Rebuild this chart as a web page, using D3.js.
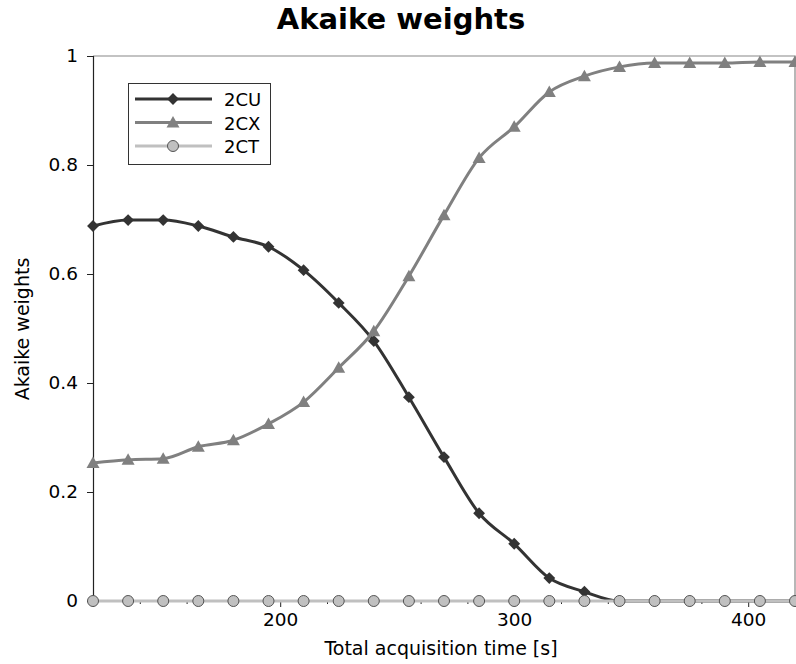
<!DOCTYPE html>
<html><head><meta charset="utf-8">
<script src="https://cdn.jsdelivr.net/npm/d3@7/dist/d3.min.js"></script>
<style>body{margin:0;background:#fff;} svg{display:block;font-family:"DejaVu Sans",sans-serif;}</style>
</head><body><svg id="c" width="796" height="664"></svg>
<script>
const times = [120,135,150,165,180,195,210,225,240,255,270,285,300,315,330,345,360,375,390,405,420];
const w2CU = [0.688,0.699,0.699,0.688,0.668,0.650,0.607,0.547,0.477,0.374,0.264,0.161,0.105,0.042,0.017,0,0,0,0,0,0];
const w2CX = [0.253,0.259,0.261,0.283,0.295,0.325,0.365,0.428,0.495,0.596,0.708,0.813,0.870,0.934,0.963,0.980,0.987,0.987,0.987,0.989,0.989];
const w2CT = [0,0,0,0,0,0,0,0,0,0,0,0,0,0,0,0,0,0,0,0,0];
const xMajorTicks = [200,300,400];
const xMinorTicks = [140,160,180,220,240,260,280,320,340,360,380];
const yTicks = [0,0.2,0.4,0.6,0.8,1];
const seriesNames = ["2CU","2CX","2CT"];

const svg = d3.select("#c");
const L=93,R=795,T=56,B=601;
const x = d3.scaleLinear().domain([120,420]).range([L,R]);
const y = d3.scaleLinear().domain([0,1]).range([B,T]);

svg.append("text").attr("x",401).attr("y",29).attr("text-anchor","middle")
  .attr("font-size",29).attr("font-weight","bold").text("Akaike weights");

// frame top/right
svg.append("path").attr("d",`M${L},${T}H${R}V${B}`).attr("fill","none").attr("stroke","#888").attr("stroke-width",1.2);

// y axis
const ya = svg.append("g").attr("transform",`translate(${L},0)`)
  .call(d3.axisLeft(y).tickValues(yTicks).tickSize(6).tickPadding(9).tickFormat(d=>d===0||d===1?String(d):d3.format(".1f")(d)));
ya.selectAll("text").attr("font-size",18.5).attr("fill","#000").attr("font-family","DejaVu Sans");
ya.select(".domain").attr("stroke","#222").attr("stroke-width",1.2);
ya.selectAll(".tick line").attr("stroke","#222");

// x axis
const xa = svg.append("g").attr("transform",`translate(0,${B})`)
  .call(d3.axisBottom(x).tickValues(xMajorTicks).tickSize(6).tickPadding(6).tickFormat(d3.format("d")));
xa.selectAll("text").attr("font-size",18.5).attr("fill","#000").attr("font-family","DejaVu Sans");
xa.select(".domain").attr("stroke","#222");
xa.selectAll(".tick line").attr("stroke","#222");
const xm = svg.append("g").attr("transform",`translate(0,${B})`)
  .call(d3.axisBottom(x).tickValues(xMinorTicks).tickSize(3).tickFormat(""));
xm.select(".domain").remove();
xm.selectAll(".tick line").attr("stroke","#222");

svg.append("text").attr("x",441).attr("y",655).attr("text-anchor","middle").attr("font-size",19).text("Total acquisition time [s]");
svg.append("text").attr("transform","translate(29,329) rotate(-90)").attr("text-anchor","middle").attr("font-size",19).text("Akaike weights");

const line = d3.line().x((d,i)=>x(times[i])).y(d=>y(d)).curve(d3.curveMonotoneX);
const styles = [
  {data:w2CU, color:"#333", width:3, marker:"diamond"},
  {data:w2CX, color:"#808080", width:3, marker:"triangle"},
  {data:w2CT, color:"#c0c0c0", width:3, marker:"circle"}
];
function drawMarker(g, type, cx, cy, s){
  if(type==="diamond"){
    g.append("path").attr("d",d3.symbol(d3.symbolSquare, 70)()).attr("transform",`translate(${cx},${cy}) rotate(45)`).attr("fill",s.color);
  } else if(type==="triangle"){
    g.append("path").attr("d",`M${cx},${cy-6.5}L${cx+6.5},${cy+5}L${cx-6.5},${cy+5}Z`).attr("fill",s.color);
  } else {
    g.append("circle").attr("cx",cx).attr("cy",cy).attr("r",5.5).attr("fill","#c0c0c0").attr("stroke","#555").attr("stroke-width",1);
  }
}
styles.forEach(s=>{
  const g = svg.append("g");
  g.append("path").datum(s.data).attr("d",line).attr("fill","none").attr("stroke",s.color).attr("stroke-width",s.width);
  s.data.forEach((v,i)=>drawMarker(g,s.marker,x(times[i]),y(v),s));
});

// legend
const lg = svg.append("g");
lg.append("rect").attr("x",128.5).attr("y",83.5).attr("width",142).attr("height",81).attr("fill","#fff").attr("stroke","#333").attr("stroke-width",1);
seriesNames.forEach((n,i)=>{
  const s = styles[i]; const yy = 99 + i*23.5;
  lg.append("line").attr("x1",135).attr("x2",212).attr("y1",yy).attr("y2",yy).attr("stroke",s.color).attr("stroke-width",s.width);
  drawMarker(lg,s.marker,173,yy,s);
  lg.append("text").attr("x",224).attr("y",yy+7).attr("font-size",18).text(n);
});
</script></body></html>
